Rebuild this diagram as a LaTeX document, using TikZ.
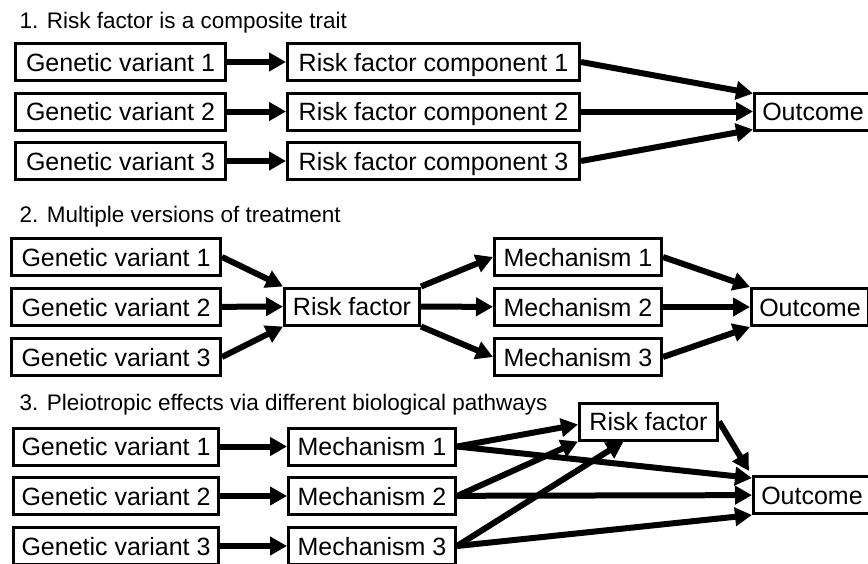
\documentclass[tikz,border=0pt]{standalone}
\usepackage{fontspec}
\setmainfont{Liberation Sans}
\usepackage{tikz}
\usetikzlibrary{positioning, arrows.meta, calc}
\tikzset{
    base/.style={
        font=\fontsize{25}{30}\selectfont,
        align=center
    },
    box/.style={
        base,
        rectangle,
        draw=black,
        line width=3pt,
        fill=white,
        inner sep=0pt,
        minimum height=37pt,
        text height=18pt,
        text depth=0pt
    },
    gene/.style={
        box,
        minimum width=209pt
    },
    component/.style={
        box,
        minimum width=292pt
    },
    mechanism/.style={
        box,
        minimum width=167pt
    },
    exposure/.style={
        box,
        minimum width=136pt
    },
    outcome/.style={
        box,
        minimum width=117pt
    },
    flow/.style={
        -{Triangle[length=17pt,width=18pt]},
        line width=6pt,
        color=black
    },
    heading/.style={
        font=\fontsize{22.5}{27}\selectfont,
        anchor=base west,
        inner sep=0pt
    }
}

\begin{document}
\begin{tikzpicture}[x=1pt, y=-1pt]
  \useasboundingbox (0,0) rectangle (868,563);

  % 1. Composite trait
  \node[heading] (headA) at (19.5,28) {1. Risk factor is a composite trait};
  \node[gene, minimum width=210pt] (gvA1) at (120.5,62) {Genetic variant 1};
  \node[gene, minimum width=210pt] (gvA2) at (120.5,111.5) {Genetic variant 2};
  \node[gene, minimum width=210pt] (gvA3) at (120.5,161) {Genetic variant 3};
  \node[component] (compA1) at (433.5,62) {Risk factor component 1};
  \node[component] (compA2) at (433.5,111.5) {Risk factor component 2};
  \node[component] (compA3) at (433.5,161) {Risk factor component 3};
  \node[outcome] (outA) at (813,111.5) {Outcome};

  \draw[flow] (gvA1) -- (compA1);
  \draw[flow] (gvA2) -- (compA2);
  \draw[flow] (gvA3) -- (compA3);
  \draw[flow] (compA1.east) -- ([yshift=-2pt]outA.north west);
  \draw[flow] (compA2) -- (outA);
  \draw[flow] (compA3.east) -- ([yshift=2pt]outA.south west);

  % 2. Multiple versions of treatment
  \node[heading] (headB) at (19.5,222) {2. Multiple versions of treatment};
  \node[gene] (gvB1) at (116,257) {Genetic variant 1};
  \node[gene] (gvB2) at (116,307) {Genetic variant 2};
  \node[gene] (gvB3) at (116,357) {Genetic variant 3};
  \node[exposure, minimum width=135pt] (rfB) at (352,306.5) {Risk factor};
  \node[mechanism] (mechB1) at (578,257) {Mechanism 1};
  \node[mechanism] (mechB2) at (578,307) {Mechanism 2};
  \node[mechanism] (mechB3) at (578,357) {Mechanism 3};
  \node[outcome] (outB) at (810,307) {Outcome};

  \draw[flow] (gvB1.east) -- (rfB.north west);
  \draw[flow] (gvB2) -- (rfB);
  \draw[flow] (gvB3.east) -- (rfB.south west);
  \draw[flow] (rfB.north east) -- (mechB1.west);
  \draw[flow] (rfB) -- (mechB2);
  \draw[flow] (rfB.south east) -- (mechB3.west);
  \draw[flow] (mechB1.east) -- (outB.north west);
  \draw[flow] (mechB2) -- (outB);
  \draw[flow] (mechB3.east) -- (outB.south west);

  % 3. Pleiotropy
  \node[heading] (headC) at (19.5,410) {3. Pleiotropic effects via different biological pathways};
  \node[gene, minimum width=205pt] (gvC1) at (116,446.5) {Genetic variant 1};
  \node[gene, minimum width=205pt] (gvC2) at (116,496) {Genetic variant 2};
  \node[gene, minimum width=205pt] (gvC3) at (116,546) {Genetic variant 3};
  \node[mechanism] (mechC1) at (372,446.5) {Mechanism 1};
  \node[mechanism] (mechC2) at (372,496) {Mechanism 2};
  \node[mechanism] (mechC3) at (372,546) {Mechanism 3};
  \node[exposure, minimum width=138pt] (rfC) at (648.5,421.5) {Risk factor};
  \node[outcome] (outC) at (812,495) {Outcome};

  \draw[flow] (gvC1) -- (mechC1);
  \draw[flow] (gvC2) -- (mechC2);
  \draw[flow] (gvC3) -- (mechC3);
  \draw[flow] (mechC1.east) -- ([yshift=-3pt]rfC.west);
  \draw[flow] (mechC1.east) -- ([yshift=-3pt]outC.north west);
  \draw[flow] (mechC2.east) -- (rfC.south west);
  \draw[flow] (mechC2) -- (outC);
  \draw[flow] (mechC3.east) -- ([xshift=-25pt]rfC.south);
  \draw[flow] (mechC3.east) -- (outC.south west);
  \draw[flow] (rfC.east) -- ([xshift=-3pt,yshift=4pt]outC.north west);
\end{tikzpicture}
\end{document}
